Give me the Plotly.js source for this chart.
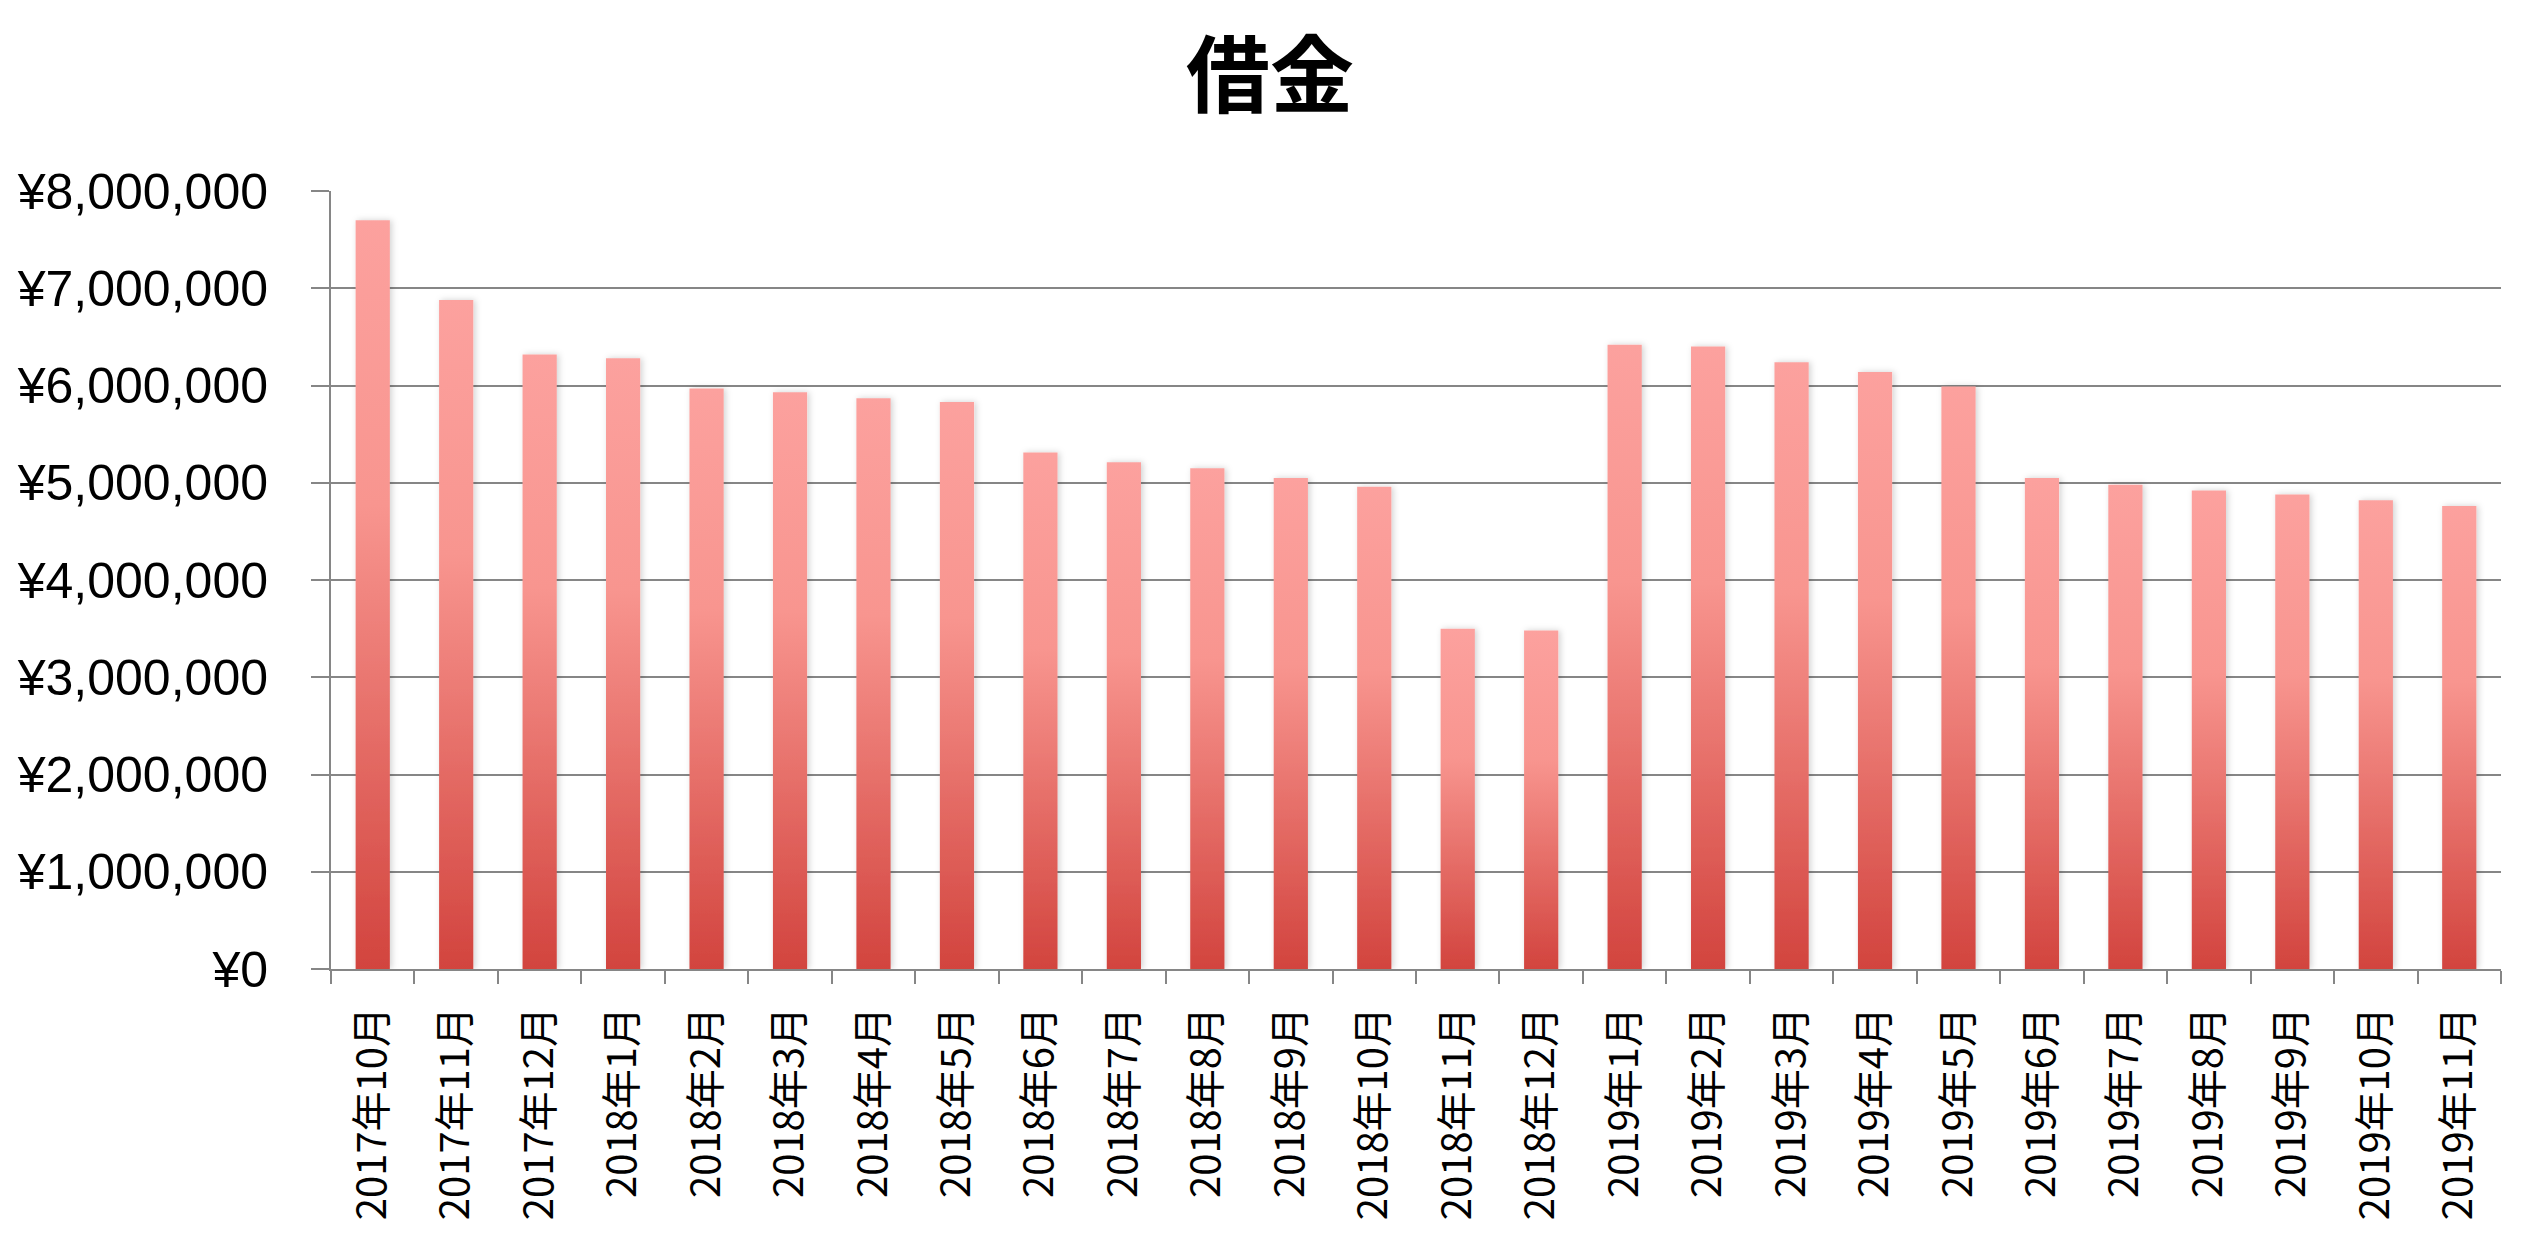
<!DOCTYPE html>
<html>
<head>
<meta charset="utf-8">
<script src="https://cdn.plot.ly/plotly-3.0.1.min.js"></script>
<style>
  html, body { margin: 0; padding: 0; background: #fff; }
</style>
</head>
<body>
<div id="chart" style="width:2540px;height:1234px;"></div>
<script>
// months and debt balance (yen)
var months = [
  '2017年10月', '2017年11月', '2017年12月',
  '2018年1月', '2018年2月', '2018年3月', '2018年4月', '2018年5月', '2018年6月',
  '2018年7月', '2018年8月', '2018年9月', '2018年10月', '2018年11月', '2018年12月',
  '2019年1月', '2019年2月', '2019年3月', '2019年4月', '2019年5月', '2019年6月',
  '2019年7月', '2019年8月', '2019年9月', '2019年10月', '2019年11月'
];
var debt = [
  7700000, 6880000, 6320000,
  6280000, 5970000, 5930000, 5870000, 5830000, 5310000,
  5210000, 5150000, 5050000, 4960000, 3500000, 3480000,
  6420000, 6400000, 6240000, 6140000, 5990000, 5050000,
  4980000, 4920000, 4880000, 4820000, 4760000
];
var chartTitle = '借金';

var gridGray = '#868686';

var trace = {
  x: months,
  y: debt,
  type: 'bar',
  marker: {color: '#f7938e', line: {width: 0}},
  hoverinfo: 'x+y'
};

var layout = {
  width: 2540,
  height: 1234,
  margin: {l: 331, r: 39, t: 191, b: 265, pad: 0},
  paper_bgcolor: '#ffffff',
  plot_bgcolor: '#ffffff',
  showlegend: false,
  bargap: 0.59,
  title: {
    text: '<b>' + chartTitle + '</b>',
    font: {family: 'Noto Sans CJK JP', size: 84, color: '#000'},
    xref: 'container', x: 0.5, xanchor: 'center',
    yref: 'container', y: 0.938, yanchor: 'middle'
  },
  xaxis: {
    type: 'category',
    showline: true, linecolor: gridGray, linewidth: 2,
    showgrid: false,
    ticks: 'outside', tickson: 'boundaries', ticklen: 13, tickwidth: 2, tickcolor: gridGray,
    tickangle: -90,
    ticklabelstandoff: 20,
    tickfont: {family: 'Noto Sans CJK JP', size: 40, color: '#000'}
  },
  yaxis: {
    range: [0, 8000000],
    dtick: 1000000,
    tickprefix: '¥',
    tickformat: ',d',
    showline: true, linecolor: gridGray, linewidth: 2,
    showgrid: true, gridcolor: gridGray, gridwidth: 2,
    zeroline: false,
    ticks: 'outside', ticklen: 18, tickwidth: 2, tickcolor: gridGray,
    ticklabelstandoff: 33,
    tickfont: {family: 'Liberation Sans', size: 50, color: '#000'}
  }
};

function addGradient(gd) {
  var ns = 'http://www.w3.org/2000/svg';
  var svg = gd.querySelector('svg.main-svg');
  var defs = svg.querySelector('defs') || svg.insertBefore(document.createElementNS(ns, 'defs'), svg.firstChild);

  var grad = document.createElementNS(ns, 'linearGradient');
  grad.setAttribute('id', 'barGrad');
  grad.setAttribute('x1', '0'); grad.setAttribute('y1', '0');
  grad.setAttribute('x2', '0'); grad.setAttribute('y2', '1');
  [['0', '#fca19e'], ['0.38', '#f8958f'], ['1', '#d2443e']].forEach(function (s) {
    var stop = document.createElementNS(ns, 'stop');
    stop.setAttribute('offset', s[0]);
    stop.setAttribute('stop-color', s[1]);
    grad.appendChild(stop);
  });
  defs.appendChild(grad);

  // soft shadow like the office chart
  var filt = document.createElementNS(ns, 'filter');
  filt.setAttribute('id', 'barShadow');
  filt.setAttribute('x', '-50%'); filt.setAttribute('width', '200%');
  var ds = document.createElementNS(ns, 'feDropShadow');
  ds.setAttribute('dx', '2'); ds.setAttribute('dy', '0');
  ds.setAttribute('stdDeviation', '3');
  ds.setAttribute('flood-color', '#000');
  ds.setAttribute('flood-opacity', '0.18');
  filt.appendChild(ds);
  defs.appendChild(filt);

  gd.querySelectorAll('.bars .point path').forEach(function (p) {
    p.style.fill = 'url(#barGrad)';
    p.setAttribute('filter', 'url(#barShadow)');
  });
}

Plotly.newPlot('chart', [trace], layout, {displayModeBar: false, staticPlot: true})
  .then(addGradient);
</script>
</body>
</html>
